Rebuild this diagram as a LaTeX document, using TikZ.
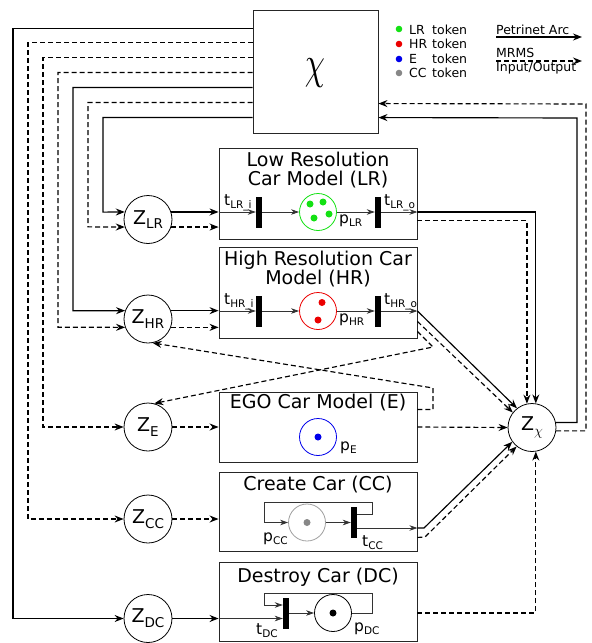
\documentclass[tikz,border=0pt]{standalone}
\usepackage{fontspec}
\setmainfont{DejaVu Sans}
\usetikzlibrary{arrows.meta,calc}
\definecolor{lrg}{RGB}{20,225,20}
\definecolor{hrr}{RGB}{235,0,0}
\definecolor{eb}{RGB}{0,0,235}
\definecolor{ccg}{RGB}{135,135,135}
\newcommand\lsub[1]{\raisebox{-0.22em}{\fontsize{10.5}{10.5}\selectfont #1}}
\newcommand\zsub[1]{\raisebox{-0.25em}{\fontsize{13.5}{13.5}\selectfont #1}}
\begin{document}
\begin{tikzpicture}[x=1pt,y=-1pt,
  outer/.style={line width=1.15pt,-{Stealth[length=9pt,width=7pt,inset=3pt]}},
  mrms/.style={outer,dash pattern=on 5pt off 3pt},
  inner/.style={line width=0.8pt,draw=black!80,-{Stealth[length=8pt,width=5.5pt,inset=2.5pt]}},
  zc/.style={circle,draw,line width=0.8pt,minimum size=48pt,inner sep=0pt,font=\fontsize{19}{19}\selectfont},
  mbox/.style={draw=black!85,line width=0.9pt,inner sep=0pt,minimum width=198pt},
  ttl/.style={align=center,inner sep=0pt,font=\fontsize{19}{19.5}\selectfont},
  place/.style={circle,minimum size=37pt,inner sep=0pt,line width=0.8pt},
  bar/.style={fill=black,draw=none,minimum width=6pt,minimum height=31pt,inner sep=0pt},
  lbl/.style={inner sep=0pt,anchor=base west,font=\fontsize{15.5}{15.5}\selectfont},
  leg/.style={inner sep=0pt,anchor=base west,font=\fontsize{12.5}{12.5}\selectfont}]
\useasboundingbox (0,0) rectangle (592,643);
% chi box
\node[draw=black!85,line width=0.9pt,minimum width=125pt,minimum height=123pt,inner sep=0pt] (X) at (315.5,71.5) {};
\node[inner sep=0pt] (chi) at (315,73) {\scalebox{3.2}[4.6]{$\chi$}};
% legend
\fill[lrg] (399,29) circle (3.3pt);
\fill[hrr] (399,44) circle (3.3pt);
\fill[eb] (399,59) circle (3.3pt);
\fill[ccg] (399,73) circle (3.3pt);
\node[leg] (l1) at (409,34) {\makebox[23pt][l]{LR}token};
\node[leg] (l2) at (409,48.5) {\makebox[23pt][l]{HR}token};
\node[leg] (l3) at (409,63) {\makebox[23pt][l]{E}token};
\node[leg] (l4) at (409,77.5) {\makebox[23pt][l]{CC}token};
\node[leg] (pa) at (496,34) {Petrinet Arc};
\node[leg] (mr) at (496,57.5) {MRMS};
\node[leg] (io) at (496,71.5) {Input/Output};
\coordinate (pa1) at (496,37);
\coordinate (pa2) at (582,37);
\coordinate (mr1) at (496,61);
\coordinate (mr2) at (582,61);
\draw[outer] (pa1) -- (pa2);
\draw[mrms] (mr1) -- (mr2);
% Z nodes
\node[zc] (ZLR) at (148,219.5) {Z\zsub{LR}};
\node[zc] (ZHR) at (148,319) {Z\zsub{HR}};
\node[zc] (ZE) at (148,427) {Z\zsub{E}};
\node[zc] (ZCC) at (148,519) {Z\zsub{CC}};
\node[zc] (ZDC) at (148,618.5) {Z\zsub{DC}};
\node[zc] (Zchi) at (532,427.5) {Z\raisebox{-0.25em}{\fontsize{15}{15}\selectfont$\chi$}};
% boxes
\node[mbox,minimum height=91pt] (LR) at (318,193.5) {};
\node[mbox,minimum height=91pt] (HR) at (318,292.5) {};
\node[mbox,minimum height=70pt] (E) at (318,427) {};
\node[mbox,minimum height=79pt] (CC) at (318,511.5) {};
\node[mbox,minimum height=79pt] (DC) at (318,601.5) {};
\node[ttl,anchor=north] (tLR) at (318,151.5) {Low Resolution\\Car Model (LR)};
\node[ttl,anchor=north] (tHR) at (318,250.5) {High Resolution Car\\Model (HR)};
\node[ttl,anchor=base] (tE) at (318,408) {EGO Car Model (E)};
\node[ttl,anchor=base] (tCCt) at (318,490) {Create Car (CC)};
\node[ttl,anchor=base] (tDCt) at (318,582) {Destroy Car (DC)};
% LR internals
\node[bar] (tLRi) at (259,212) {};
\node[bar] (tLRo) at (378,212) {};
\node[place,draw=lrg] (pLR) at (318,212) {};
\fill[lrg] (310,204) circle (3.5pt) (323,202) circle (3.5pt) (314,218) circle (3.5pt) (329,214) circle (3.5pt);
\node[lbl] (ltLRi) at (224,205) {t\lsub{LR\_i}};
\node[lbl] (ltLRo) at (384,205) {t\lsub{LR\_o}};
\node[lbl] (lpLR) at (339,223) {p\lsub{LR}};
% HR internals
\node[bar] (tHRi) at (259,311) {};
\node[bar] (tHRo) at (378,311) {};
\node[place,draw=hrr] (pHR) at (318,311) {};
\fill[hrr] (322,302.5) circle (3.5pt) (318,320) circle (3.5pt);
\node[lbl] (ltHRi) at (224,304) {t\lsub{HR\_i}};
\node[lbl] (ltHRo) at (384,304) {t\lsub{HR\_o}};
\node[lbl] (lpHR) at (339,322) {p\lsub{HR}};
% E internals
\node[place,draw=eb] (pE) at (318,437) {};
\fill[eb] (318,437) circle (3.5pt);
\node[lbl] (lpE) at (340,450) {p\lsub{E}};
% CC internals
\node[place,draw=ccg!80] (pCC) at (307,522.5) {};
\fill[ccg] (307,522.5) circle (3.5pt);
\node[bar] (tCC) at (354,522.5) {};
\node[lbl] (lpCC) at (263,541) {p\lsub{CC}};
\node[lbl] (ltCC) at (362,546) {t\lsub{CC}};
% DC internals
\node[bar] (tDC) at (286,613) {};
\node[place,draw=black] (pDC) at (333,613) {};
\fill[black] (333,613) circle (3.5pt);
\node[lbl] (ltDC) at (256,634) {t\lsub{DC}};
\node[lbl] (lpDC) at (354,631) {p\lsub{DC}};
% connectors from chi box to Z nodes
\draw[outer] ([yshift=-19pt]X.north west) -| (13,618.5) -- (ZDC);
\draw[mrms] ([yshift=-33pt]X.north west) -| (28,519) -- (ZCC);
\draw[mrms] ([yshift=-48pt]X.north west) -| (43,427) -- (ZE);
\draw[mrms] ([yshift=-63pt]X.north west) -| (58,327.2) -- (ZHR.200);
\draw[outer] ([yshift=-78pt]X.north west) -| (73,310.8) -- (ZHR.160);
\draw[mrms] ([yshift=-93pt]X.north west) -| (88,226.9) -- (ZLR.198);
\draw[outer] ([yshift=-108pt]X.north west) -| (103,212.1) -- (ZLR.162);
% Z nodes to boxes
\draw[outer] (ZLR.18) -- (ZLR.18 -| LR.west);
\draw[mrms] (ZLR.-18) -- (ZLR.-18 -| LR.west);
\draw[outer] (ZHR.20) -- (ZHR.20 -| HR.west);
\draw[mrms] (ZHR.-20) -- (ZHR.-20 -| HR.west);
\draw[mrms] (ZE.east) -- (ZE.east -| E.west);
\draw[mrms] (ZCC.east) -- (ZCC.east -| CC.west);
\draw[outer] (ZDC.east) -- (ZDC.east -| DC.west);
% LR net
\draw[inner] (LR.west |- tLRi) -- (tLRi.west);
\draw[inner] (tLRi) -- (pLR);
\draw[inner] (pLR) -- (tLRo);
\draw[inner] (tLRo.east) -- (tLRo -| LR.east);
\draw[outer] (tLRo -| LR.east) -| (Zchi.81);
\draw[mrms] ([yshift=19pt]LR.south east) -| (Zchi.102);
% HR net
\draw[inner] (HR.west |- tHRi) -- (tHRi.west);
\draw[inner] (tHRi) -- (pHR);
\draw[inner] (pHR) -- (tHRo);
\draw[inner] (tHRo.east) -- (tHRo -| HR.east);
\draw[outer] (tHRo -| HR.east) -- (Zchi.128);
\draw[mrms] ([yshift=17pt]HR.south east) -- (Zchi.142);
\draw[mrms] ([yshift=7pt]HR.south east) -- (433,347) -- (ZE.75);
% E
\draw[mrms] (E.east) -- (Zchi.west);
\draw[mrms] ([yshift=-18pt]E.north east) -| (433,388) -- (ZHR.-79);
% CC net
\coordinate (cco) at ([yshift=-5.5pt]tCC.east);
\coordinate (ccl) at ([yshift=8.5pt]tCC.east);
\draw[inner] (pCC) -- (tCC);
\draw[inner] (ccl) -- (372,514) -- (372,502) -- (264,502) -- (264,522.5) -- (pCC.west);
\draw[inner] (cco) -- (cco -| CC.east);
\draw[outer] (cco -| CC.east) -- (424,528) -- (Zchi.216);
\draw[mrms] ([yshift=14pt]CC.south east) -- (425,537) -- (Zchi.231);
% DC net
\coordinate (dcl) at (264,605);
\draw[inner] (ZDC.east -| DC.west) -- (ZDC.east -| tDC.west);
\draw[inner] (tDC) -- (pDC);
\draw[inner] (pDC.east) -- (372,613) -- (372,593) -- (264,593) -- (dcl) -- (dcl -| tDC.west);
\draw[mrms] (pDC -| DC.east) -| (Zchi.-81);
% Z chi back to chi box
\draw[outer] (Zchi.12) -| (577,118) -- ([yshift=-108pt]X.north east);
\draw[mrms] (Zchi.-8) -| (586,104) -- ([yshift=-94pt]X.north east);
\end{tikzpicture}
\end{document}
